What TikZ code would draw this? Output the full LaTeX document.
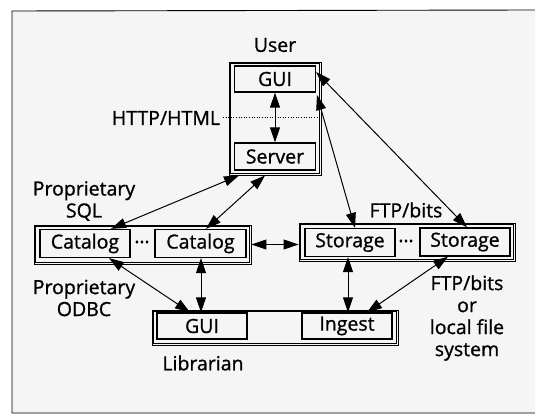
\documentclass[tikz,border=0pt]{standalone}
\usepackage{fontspec}
\setmainfont{Open Sans}[FakeBold=1]
\usetikzlibrary{arrows.meta}
\begin{document}
\begin{tikzpicture}[x=1pt,y=-1pt,
  inbox/.style={draw, line width=1.3pt, minimum width=90pt, minimum height=28pt, inner sep=0pt, font=\fontsize{19.5}{22}\selectfont},
  outbox/.style={draw, line width=0.9pt, inner sep=0pt},
  lbl/.style={font=\fontsize{19.5}{22}\selectfont, align=center, inner sep=0pt},
  conn/.style={{Triangle[length=15pt,width=10pt]}-{Triangle[length=15pt,width=10pt]}, line width=1pt},
  inset/.style={line width=0.8pt}]
\useasboundingbox (0,0) rectangle (535,414);
\fill[black!4] (12,11) rectangle (535,413);
\draw[line width=0.9pt] (535,10) -- (12,11) -- (12,413) -- (535,413);

% outer boxes
\node[outbox, minimum width=92pt, minimum height=113pt] (user) at (275,118.5) {};
\node[outbox, minimum width=217pt, minimum height=39pt] (catbox) at (142.5,244.5) {};
\node[outbox, minimum width=216pt, minimum height=38pt] (stbox) at (407,242) {};
\node[outbox, minimum width=246pt, minimum height=35pt] (libbox) at (275,327.5) {};
\foreach \b in {user,catbox,stbox,libbox}
  \draw[inset] ([shift={(2pt,-2pt)}]\b.north west) rectangle ([shift={(-2pt,2pt)}]\b.south east);

% inner boxes
\node[inbox, minimum width=81pt, minimum height=26pt] (ugui) at (275,79) {GUI};
\node[inbox, minimum width=81pt, minimum height=27pt] (server) at (275,156.5) {Server};
\node[inbox] (cat1) at (85,243.5) {Catalog};
\node[inbox, minimum width=91pt] (cat2) at (200.5,243.5) {Catalog};
\node[inbox] (st1) at (350,242.5) {Storage};
\node[inbox] (st2) at (465,242) {Storage};
\node[inbox, minimum height=26pt] (lgui) at (202,326) {GUI};
\node[inbox, minimum height=26pt] (ingest) at (347,326) {Ingest};

\node[lbl] (dots1) at (142,242) {…};
\node[lbl] (dots2) at (406,241) {…};

% labels
\node[lbl] (userlbl) at (275,45) {User};
\node[lbl] (http) at (166,118) {HTTP/HTML};
\node[lbl] (sql) at (84,201) {Proprietary\\SQL};
\node[lbl] (odbc) at (84,298) {Proprietary\\ODBC};
\node[lbl] (ftp1) at (406,210) {FTP/bits};
\node[lbl] (ftp2) at (467,318) {FTP/bits\\or\\local file\\system};
\node[lbl] (libr) at (203,363) {Librarian};

% dotted separator
\coordinate (dl) at (223,117);
\coordinate (dr) at (321,117);
\draw[dotted, line width=0.6pt] (dl) -- (dr);

% connectors
\draw[conn] (ugui.south) -- (server.north);
\draw[conn] (user.south -| 239,0) -- (cat1.north -| 111,0);
\draw[conn] (user.south -| 265,0) -- (cat2.north -| 206,0);
\draw[conn] (ugui.east |- 0,72) -- (st2.north -| 467,0);
\coordinate (g2) at (317,95);
\draw[conn] (g2) -- (st1.north -| 355,0);
\draw[conn] (catbox.east) -- (stbox.west |- catbox.east);
\draw[conn] (cat1.south -| 109,0) -- (lgui.north -| 190,0);
\draw[conn] (cat2.south -| 201,0) -- (lgui.north -| 201,0);
\draw[conn] (st1.south -| 348,0) -- (ingest.north -| 348,0);
\draw[conn] (st2.south -| 448,0) -- (ingest.north -| 367,0);
\end{tikzpicture}
\end{document}
